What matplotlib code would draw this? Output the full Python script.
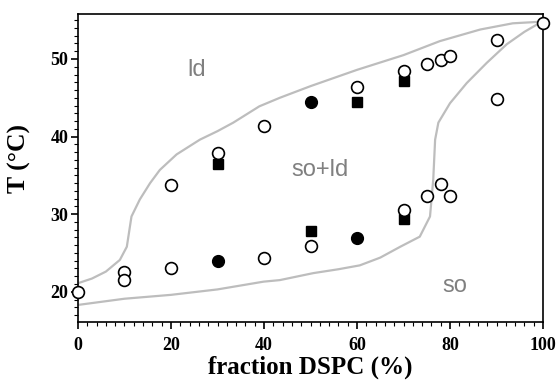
import numpy as np
import matplotlib
matplotlib.use("Agg")
import matplotlib.pyplot as plt
from matplotlib.ticker import MultipleLocator

# ---------------------------------------------------------------------------
# Data
# ---------------------------------------------------------------------------

# open circles
open_x = [0, 10, 10, 20, 20, 30, 40, 40, 50, 60, 70, 70, 75, 78, 80,
          90, 90, 100, 75, 78, 80]
open_y = [20.0, 22.6, 21.5, 23.0, 33.8, 37.9, 41.4, 24.4, 25.9, 46.4, 48.5,
          30.5, 49.4, 49.9, 50.4, 52.4, 44.9, 54.7, 32.4, 33.9, 32.4]

# filled circles
fcirc_x = [30, 50, 60]
fcirc_y = [23.9, 44.4, 26.9]

# filled squares
fsq_x = [30, 50, 60, 70, 70]
fsq_y = [36.5, 27.8, 44.4, 47.2, 29.4]

# upper boundary (liquidus)
liq_x = [0, 3, 6, 9, 10.5, 11.5, 13.3, 15.5, 17.6, 21.2, 26.2, 30, 33.4,
         39, 43.4, 50, 60, 70, 77.8, 86.5, 93.5, 99.4, 100]
liq_y = [21.1, 21.7, 22.6, 24.1, 25.8, 29.7, 31.9, 34.0, 35.7, 37.7, 39.6,
         40.7, 41.8, 43.9, 45.0, 46.5, 48.6, 50.5, 52.3, 53.8, 54.6, 54.8, 54.8]

# lower boundary (solidus)
sol_x = [0, 10, 20, 30, 39.9, 43.4, 50.6, 56, 60.6, 65, 69.3, 73.5, 75.7,
         76.4, 76.8, 77.5, 80, 83.6, 87.9, 92.2, 96, 100]
sol_y = [18.3, 19.1, 19.6, 20.3, 21.3, 21.5, 22.4, 22.9, 23.4, 24.4, 25.8,
         27.1, 29.7, 34.5, 39.6, 41.8, 44.3, 46.9, 49.5, 51.9, 53.5, 54.9]

regions = ["ld", "so+ld", "so"]
region_x = [25.5, 52, 81]
region_y = [48.6, 35.7, 20.7]

# ---------------------------------------------------------------------------
# Plot
# ---------------------------------------------------------------------------

plt.rcParams["font.family"] = "Liberation Serif"
plt.rcParams["font.weight"] = "bold"

fig = plt.figure(figsize=(5.58, 3.82), dpi=100)
ax = fig.add_axes([78 / 558, 1 - 322 / 382, 465 / 558, 308 / 382])

grey = "#bdbdbd"
ax.plot(liq_x, liq_y, color=grey, lw=1.6, zorder=1)
ax.plot(sol_x, sol_y, color=grey, lw=1.6, zorder=1)

ax.plot(open_x, open_y, "o", ms=8.5, mfc="white", mec="black", mew=1.2,
        ls="none", zorder=3, clip_on=False)
ax.plot(fcirc_x, fcirc_y, "o", ms=8.5, color="black", ls="none", zorder=4)
ax.plot(fsq_x, fsq_y, "s", ms=6.5, color="black", ls="none", zorder=2)

for lab, tx, ty in zip(regions, region_x, region_y):
    ax.text(tx, ty, lab, fontsize=17, color="#808080", ha="center",
            va="center", family="Liberation Sans", fontweight="normal")

ax.set_xlim(0, 100)
ax.set_ylim(16.1, 55.8)
ax.xaxis.set_major_locator(MultipleLocator(20))
ax.xaxis.set_minor_locator(MultipleLocator(2))
ax.yaxis.set_major_locator(MultipleLocator(10))
ax.yaxis.set_minor_locator(MultipleLocator(1))
ax.tick_params(which="both", direction="out", top=False, right=False)
ax.tick_params(which="major", length=5, width=1.2, labelsize=13)
ax.tick_params(which="minor", length=3, width=0.8)
ax.tick_params(axis="x", which="major", pad=6)
ax.tick_params(axis="y", which="major", pad=2)

for sp in ax.spines.values():
    sp.set_linewidth(1.2)

ax.set_xlabel("fraction DSPC (%)", fontweight="bold", fontsize=18)
ax.set_ylabel("T (°C)", fontweight="bold", fontsize=18.5)
ax.xaxis.set_label_coords(0.5, -0.11)
ax.yaxis.set_label_coords(-0.1, 0.53)

fig.savefig("out.png", dpi=100)
